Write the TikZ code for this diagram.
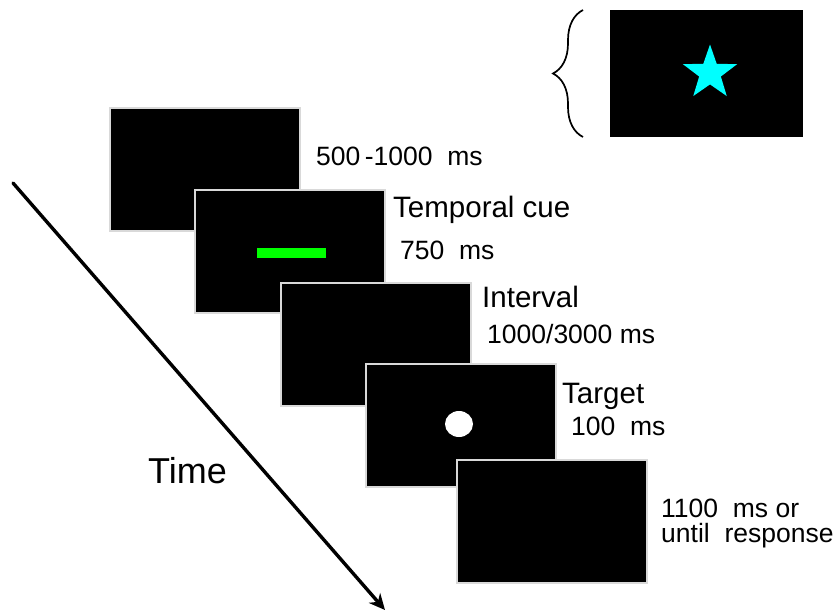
\documentclass[tikz,border=0pt]{standalone}
\usepackage{fontspec}
\setmainfont{Liberation Sans}
\usetikzlibrary{arrows.meta,positioning,calc,shapes.geometric,decorations.pathreplacing}
\definecolor{cstar}{HTML}{00FFFF}
\definecolor{ccue}{HTML}{00FF00}

\begin{document}
\begin{tikzpicture}[
  x=1pt,y=-1pt,>=Stealth,
  screen/.style={rectangle,fill=black,draw=white!85!black,line width=1.2pt,minimum width=190pt,minimum height=123pt,inner sep=0pt},
  ttl/.style={anchor=base west,inner sep=0pt,font=\fontsize{29.5}{34}\selectfont},
  dur/.style={anchor=base west,inner sep=0pt,font=\fontsize{26.5}{30}\selectfont},
  timeline/.style={line width=3.4pt,line cap=round,arrows={-Stealth[length=16pt,width=15pt]}}
]
  \useasboundingbox (0,0) rectangle (840,613);

  % Screens -- each one overlaps the previous
  \node[screen] (blank)    at (205,169.5) {};
  \node[screen] (cue)      at (290,251.5) {};
  \node[screen] (interval) at (376,344.5) {};
  \node[screen] (target)   at (461,425.5) {};
  \node[screen] (resp)     at (552,521.5) {};

  % Stimuli on the screens
  \node[rectangle,fill=ccue,minimum width=69pt,minimum height=10pt,inner sep=0pt] (bar) at ($(cue.center)+(1.5,1.5)$) {};
  \node[ellipse,fill=white,minimum width=28pt,minimum height=26pt,inner sep=0pt] (dot) at ($(target.center)+(-2,-1.5)$) {};

  % Star example -- top right
  \node[screen,minimum width=193pt,minimum height=127pt,draw=none] (starbox) at (706.5,73.5) {};
  \node[star,star points=5,star point ratio=2.5,fill=cstar,minimum size=57pt,inner sep=0pt] (star) at (710,73) {};
  \coordinate (bracelo) at (583,137);
  \coordinate (bracehi) at (583,10);
  \draw[decorate,decoration={brace,amplitude=30pt},line width=1.7pt] (bracelo) -- (bracehi);

  % Labels
  \node[dur] (t1)  at (316,165) {500\,-1000\ \ ms};
  \node[ttl] (n2)  at (393,217) {Temporal cue};
  \node[dur] (t2)  at (400,259) {750\ \ ms};
  \node[ttl] (n3)  at (482,307) {Interval};
  \node[dur] (t3)  at (487,343) {1000/3000 ms};
  \node[ttl] (n4)  at (562,403) {Target};
  \node[dur] (t4)  at (571,435) {100\ \ ms};
  \node[dur] (t5)  at (661,517) {1100\ \ ms\ or};
  \node[dur] (t5b) at (661,542) {until\ \ response};
  \node[anchor=base west,inner sep=0pt,font=\fontsize{36}{40}\selectfont] (time) at (148,483) {Time};

  % Time arrow
  \coordinate (tstart) at (13,183);
  \coordinate (tend)   at (385,610);
  \draw[timeline] (tstart) -- (tend);
\end{tikzpicture}
\end{document}
